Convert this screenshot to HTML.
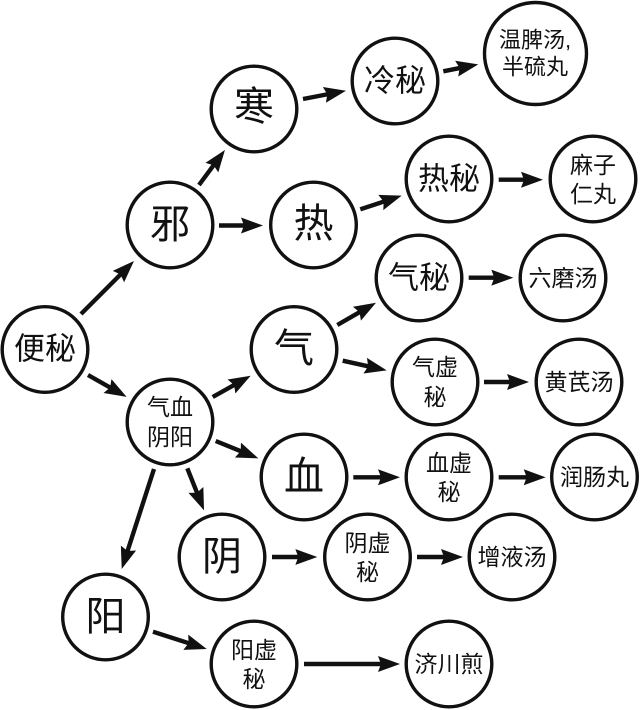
<!DOCTYPE html>
<html><head><meta charset="utf-8"><style>
html,body{margin:0;padding:0;background:#fff}
svg{display:block}
circle{fill:#fff;stroke:#111;stroke-width:3.4}
line{stroke:#111;stroke-width:4.4}
text{font-family:"Liberation Sans","Noto Sans CJK SC",sans-serif;fill:#111;text-anchor:middle;dominant-baseline:central}
.a{font-size:40px}.b{font-size:31px}.c{font-size:23px}.d{font-size:22px}
</style></head><body>
<svg width="640" height="710" viewBox="0 0 640 710" xmlns="http://www.w3.org/2000/svg">
<defs><marker id="h" markerUnits="userSpaceOnUse" markerWidth="22" markerHeight="18" viewBox="0 0 22 18" refX="10" refY="9" orient="auto"><path d="M0 1L22 9L0 17L3 9Z" fill="#111"/></marker></defs>
<line x1="81" y1="314" x2="125.5" y2="269.5" marker-end="url(#h)"/>
<line x1="199" y1="185" x2="217.8" y2="159.6" marker-end="url(#h)"/>
<line x1="219" y1="225.5" x2="251" y2="225.5" marker-end="url(#h)"/>
<line x1="303" y1="99" x2="334.2" y2="93" marker-end="url(#h)"/>
<line x1="443.3" y1="71.3" x2="466.5" y2="66.7" marker-end="url(#h)"/>
<line x1="360.3" y1="209.3" x2="390.3" y2="199.4" marker-end="url(#h)"/>
<line x1="498.7" y1="179.7" x2="531" y2="179.7" marker-end="url(#h)"/>
<line x1="337.3" y1="325" x2="365.6" y2="308.7" marker-end="url(#h)"/>
<line x1="468.7" y1="277.7" x2="501.3" y2="277.7" marker-end="url(#h)"/>
<line x1="342.7" y1="360.7" x2="375" y2="367.8" marker-end="url(#h)"/>
<line x1="484" y1="382" x2="517" y2="382" marker-end="url(#h)"/>
<line x1="353.3" y1="477.3" x2="388" y2="477.3" marker-end="url(#h)"/>
<line x1="498.7" y1="477.3" x2="533.7" y2="477.3" marker-end="url(#h)"/>
<line x1="272" y1="557" x2="305.3" y2="557" marker-end="url(#h)"/>
<line x1="417" y1="557" x2="451" y2="557" marker-end="url(#h)"/>
<line x1="304" y1="664" x2="388" y2="664" marker-end="url(#h)"/>
<line x1="88" y1="375" x2="116.2" y2="391" marker-end="url(#h)"/>
<line x1="212.7" y1="397" x2="240.2" y2="381.6" marker-end="url(#h)"/>
<line x1="215.7" y1="441" x2="247.2" y2="453.8" marker-end="url(#h)"/>
<line x1="187.3" y1="468.3" x2="199.6" y2="499.2" marker-end="url(#h)"/>
<line x1="154" y1="469" x2="125.4" y2="557.6" marker-end="url(#h)"/>
<line x1="153" y1="631.7" x2="195.3" y2="645.3" marker-end="url(#h)"/>
<circle cx="45" cy="349.5" r="42.8"/><text class="b" x="45" y="349">便秘</text>
<circle cx="170" cy="225" r="42.8"/><text class="a" x="170" y="225">邪</text>
<circle cx="254" cy="109" r="42.8"/><text class="a" x="254" y="107">寒</text>
<circle cx="313.5" cy="225" r="42.8"/><text class="a" x="313.5" y="224">热</text>
<circle cx="395" cy="81" r="42.8"/><text class="b" x="395" y="81">冷秘</text>
<circle cx="535.5" cy="53.5" r="51"/><text class="d" x="535" y="40">温脾汤,</text><text class="d" x="535" y="67">半硫丸</text>
<circle cx="449" cy="179" r="42.8"/><text class="b" x="449" y="179">热秘</text>
<circle cx="593" cy="179" r="42.8"/><text class="c" x="593" y="165">麻子</text><text class="c" x="593" y="194">仁丸</text>
<circle cx="294" cy="349.5" r="42.8"/><text class="a" x="294" y="349">气</text>
<circle cx="419" cy="278" r="42.8"/><text class="b" x="419" y="278">气秘</text>
<circle cx="563" cy="278" r="42.8"/><text class="c" x="563" y="278">六磨汤</text>
<circle cx="435" cy="382" r="42.8"/><text class="c" x="435" y="367">气虚</text><text class="c" x="435" y="397">秘</text>
<circle cx="579" cy="382" r="42.8"/><text class="c" x="579" y="382">黄芪汤</text>
<circle cx="170" cy="422" r="42.8"/><text class="c" x="170" y="407">气血</text><text class="c" x="170" y="437">阴阳</text>
<circle cx="304" cy="477" r="42.8"/><text class="a" x="304" y="477">血</text>
<circle cx="449" cy="477" r="42.8"/><text class="c" x="449" y="463">血虚</text><text class="c" x="449" y="492">秘</text>
<circle cx="594.5" cy="477" r="42.8"/><text class="c" x="594.5" y="477">润肠丸</text>
<circle cx="222" cy="557" r="42.8"/><text class="a" x="222" y="557">阴</text>
<circle cx="367.5" cy="557" r="42.8"/><text class="c" x="367.5" y="543">阴虚</text><text class="c" x="367.5" y="572">秘</text>
<circle cx="512" cy="557" r="42.8"/><text class="c" x="512" y="557">增液汤</text>
<circle cx="105.5" cy="617" r="42.8"/><text class="a" x="105.5" y="617">阳</text>
<circle cx="254" cy="664" r="42.8"/><text class="c" x="254" y="650">阳虚</text><text class="c" x="254" y="679">秘</text>
<circle cx="449" cy="664" r="42.8"/><text class="c" x="449" y="664">济川煎</text>
</svg>
</body></html>
